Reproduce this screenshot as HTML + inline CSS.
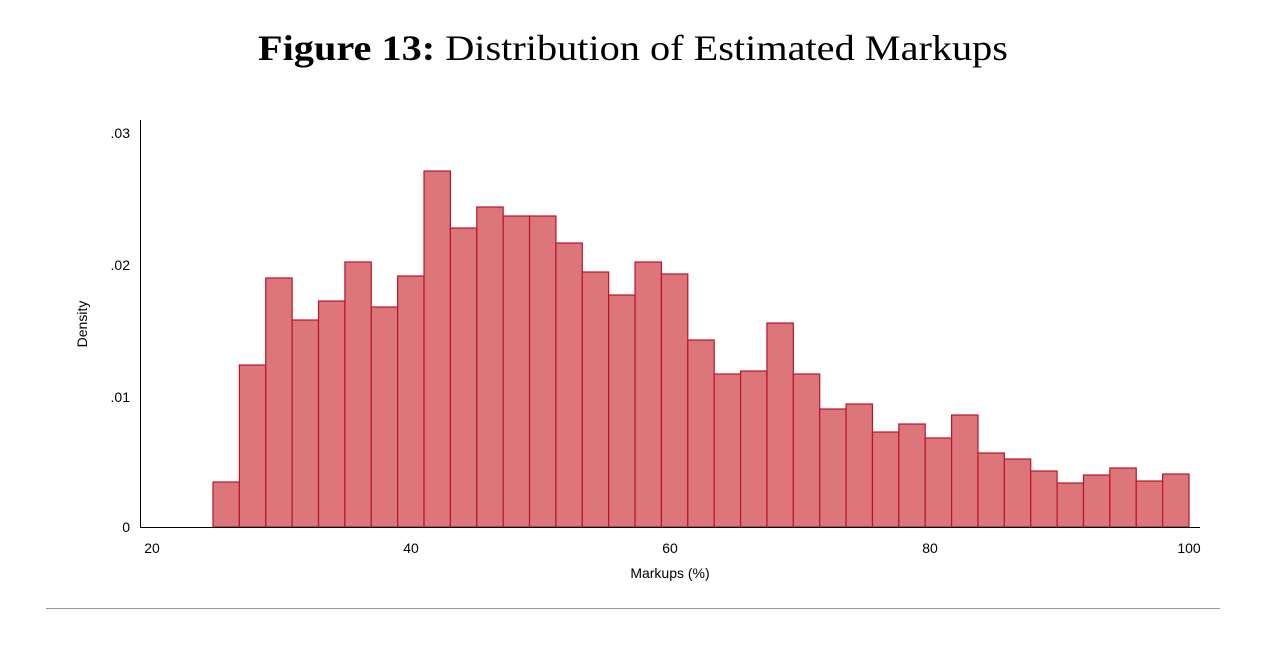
<!DOCTYPE html>
<html><head><meta charset="utf-8"><style>
body{margin:0;background:#fff;width:1279px;height:656px;overflow:hidden}
</style></head><body>
<svg width="1279" height="656" viewBox="0 0 1279 656" xmlns="http://www.w3.org/2000/svg">
<text x="258" y="60" textLength="750" lengthAdjust="spacingAndGlyphs" font-family="Liberation Serif, serif" font-size="36"><tspan font-weight="bold">Figure 13:</tspan> Distribution of Estimated Markups</text>
<g fill="#dc767b" stroke="#b8142a" stroke-width="1.2" id="bars"></g>
<line x1="140.5" y1="120" x2="140.5" y2="527" stroke="#000" stroke-width="1"/>
<line x1="140" y1="527.5" x2="1200" y2="527.5" stroke="#000" stroke-width="1"/>
<g font-family="Liberation Sans, sans-serif" font-size="14" text-anchor="end">
<text x="130" y="138">.03</text><text x="130" y="270">.02</text><text x="130" y="402">.01</text><text x="130" y="532">0</text>
</g>
<g font-family="Liberation Sans, sans-serif" font-size="14" text-anchor="middle">
<text x="152" y="553">20</text><text x="411" y="553">40</text><text x="670" y="553">60</text><text x="930" y="553">80</text><text x="1189" y="553">100</text>
<text x="670" y="578">Markups (%)</text>
<text transform="translate(87,324) rotate(-90)">Density</text>
</g>
<line x1="46" y1="608.5" x2="1220" y2="608.5" stroke="#999" stroke-width="1"/>
<script>
var tops=[482,365,278,320,301,262,307,276,171,228,207,216,216,243,272,295,262,274,340,374,371,323,374,409,404,432,424,438,415,453,459,471,483,475,468,481,474];
var g=document.getElementById('bars'),w=976/37;
tops.forEach(function(t,i){var r=document.createElementNS('http://www.w3.org/2000/svg','rect');
r.setAttribute('x',213+i*w);r.setAttribute('y',t);r.setAttribute('width',w);r.setAttribute('height',527-t);g.appendChild(r);});
</script>
</svg>
</body></html>
